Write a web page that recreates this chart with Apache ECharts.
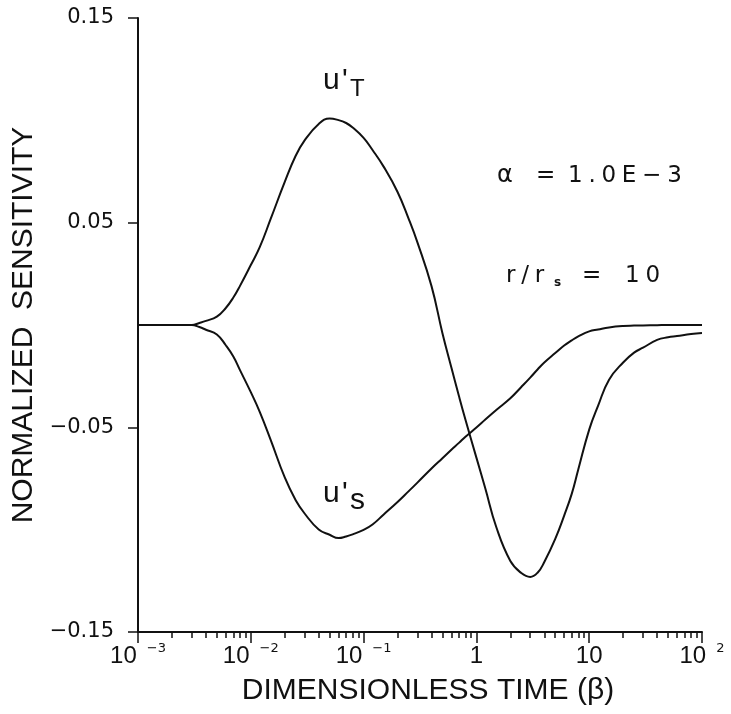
<!DOCTYPE html>
<html>
<head>
<meta charset="utf-8">
<script src="https://cdn.jsdelivr.net/npm/echarts@6/dist/echarts.min.js"></script>
<style>
html, body { margin: 0; padding: 0; background: #fff; }
#chart { width: 731px; height: 714px; }
</style>
</head>
<body>
<div id="chart"></div>
<script>
// Dimensionless time samples (beta)
const beta = [0.001, 0.002, 0.003, 0.0035, 0.004, 0.005, 0.006, 0.007, 0.008, 0.01,
  0.012, 0.015, 0.02, 0.025, 0.03, 0.04, 0.05, 0.06, 0.07, 0.08,
  0.1, 0.12, 0.15, 0.2, 0.25, 0.3, 0.4, 0.5, 0.6, 0.7,
  0.8, 1, 1.2, 1.5, 2, 2.5, 3, 3.5, 4, 5,
  6, 7, 8, 10, 12, 15, 20, 25, 30, 40,
  50, 60, 80, 100];

// Normalized sensitivity u'T
const uT = [0, 0, 0, 0.001, 0.002, 0.0041, 0.0083, 0.0134, 0.019, 0.0293,
  0.038, 0.0518, 0.0699, 0.0827, 0.0902, 0.0982, 0.1009, 0.1001, 0.0987, 0.0965,
  0.0914, 0.0855, 0.0775, 0.065, 0.0521, 0.0404, 0.019, -0.004, -0.0208, -0.0347,
  -0.0463, -0.0648, -0.0799, -0.0987, -0.1153, -0.1212, -0.1231, -0.1209, -0.1158, -0.1045,
  -0.0931, -0.0825, -0.0706, -0.0511, -0.0394, -0.0267, -0.0183, -0.0135, -0.0111, -0.0073,
  -0.006, -0.0054, -0.0044, -0.0039];

// Normalized sensitivity u'S
const uS = [0, 0, 0, -0.001, -0.0023, -0.0046, -0.0099, -0.0154, -0.0219, -0.0328,
  -0.0424, -0.0561, -0.0745, -0.0856, -0.0921, -0.0999, -0.1025, -0.1041, -0.1033, -0.1023,
  -0.1001, -0.0975, -0.0927, -0.0865, -0.0813, -0.077, -0.0701, -0.0651, -0.061, -0.0576,
  -0.0546, -0.0501, -0.0462, -0.0415, -0.0358, -0.0303, -0.0257, -0.0216, -0.0183, -0.0137,
  -0.01, -0.0075, -0.0056, -0.0031, -0.0022, -0.0012, -0.0005, -0.0003, -0.0002, -0.0001,
  0, 0, 0, 0];

// Tick labels
const xTickValues = [0.001, 0.01, 0.1, 1, 10, 100];
const xTickBase = ['10', '10', '10', '1', '10', '10'];
const xTickExp = ['\u22123', '\u22122', '\u22121', '', '', '2'];
const yTickValues = [-0.15, -0.05, 0.05, 0.15];
const yTickLabels = ['\u22120.15', '\u22120.05', '0.05', '0.15'];

// Minor ticks at 2..9 within each decade (placed on a linear exponent axis)
const minorDecades = [0.001, 0.01, 0.1, 1, 10];
const minorMultipliers = [2, 3, 4, 5, 6, 7, 8, 9];
const minorExponents = [];
minorDecades.forEach(d => minorMultipliers.forEach(m => minorExponents.push(Math.log10(m * d))));

const INK = '#111';
const SANS = '"Liberation Sans", Arial, sans-serif';
const DEJA = '"DejaVu Sans", sans-serif';

function xLabel(v) {
  const e = Math.log10(v);
  const i = xTickValues.findIndex(t => Math.abs(Math.log10(t) - e) < 1e-6);
  if (i < 0) return '';
  return xTickExp[i] ? '{b|' + xTickBase[i] + '}{s|' + xTickExp[i] + '}' : '{b|' + xTickBase[i] + '}';
}

// Annotation text placed by baseline
function note(s, x, baseline, size, family, weight) {
  return {
    type: 'text', x: x, y: baseline - 0.3 * size, z: 10,
    style: {
      text: s, fontSize: size, fontFamily: family, fontWeight: weight || 'normal',
      fill: INK, align: 'left', textAlign: 'left', verticalAlign: 'middle', textVerticalAlign: 'middle'
    }
  };
}

const chart = echarts.init(document.getElementById('chart'), null, { renderer: 'canvas' });

chart.setOption({
  animation: false,
  backgroundColor: '#fff',
  grid: { left: 138, right: 29, top: 18, bottom: 82, containLabel: false },
  xAxis: [
    {
      type: 'log', logBase: 10, min: 0.001, max: 100,
      position: 'bottom',
      name: 'DIMENSIONLESS TIME (\u03b2)',
      nameLocation: 'middle', nameGap: 44,
      nameTextStyle: { fontFamily: SANS, fontSize: 30, color: INK, padding: [0, 0, 0, 16] },
      axisLine: { show: true, onZero: false, lineStyle: { color: INK, width: 2 } },
      axisTick: { show: true, length: 11, lineStyle: { color: INK, width: 1.5 } },
      minorTick: { show: false },
      splitLine: { show: false },
      axisLabel: {
        margin: 10, formatter: xLabel, color: INK,
        rich: {
          b: { fontFamily: SANS, fontSize: 24, lineHeight: 28, color: INK },
          s: { fontFamily: DEJA, fontSize: 13, lineHeight: 13, verticalAlign: 'top', padding: [0, 0, 0, 10], color: INK }
        }
      }
    },
    {
      type: 'value', min: -3, max: 2,
      position: 'bottom', offset: 0,
      axisLine: { show: false, onZero: false },
      axisLabel: { show: false },
      splitLine: { show: false },
      axisTick: { show: true, length: 6, customValues: minorExponents, lineStyle: { color: INK, width: 1.5 } }
    }
  ],
  yAxis: {
    type: 'value', min: -0.15, max: 0.15,
    position: 'left',
    name: 'NORMALIZED  SENSITIVITY',
    nameLocation: 'middle', nameGap: 94,
    nameTextStyle: { fontFamily: SANS, fontSize: 30, color: INK },
    axisLine: { show: true, onZero: false, lineStyle: { color: INK, width: 2 } },
    axisTick: { show: true, length: 10, customValues: yTickValues, lineStyle: { color: INK, width: 1.5 } },
    splitLine: { show: false },
    axisLabel: {
      customValues: yTickValues, margin: 24,
      fontFamily: DEJA, fontSize: 21, color: INK,
      formatter: v => {
        const i = yTickValues.findIndex(t => Math.abs(t - v) < 1e-9);
        return i < 0 ? '' : yTickLabels[i];
      }
    }
  },
  series: [
    {
      name: "u'T", type: 'line', xAxisIndex: 0, showSymbol: false, smooth: 0.45,
      lineStyle: { color: INK, width: 2 },
      data: beta.map((b, i) => [b, uT[i]])
    },
    {
      name: "u'S", type: 'line', xAxisIndex: 0, showSymbol: false, smooth: 0.45,
      lineStyle: { color: INK, width: 2 },
      data: beta.map((b, i) => [b, uS[i]])
    }
  ],
  graphic: [
    // curve labels
    note('u', 323, 90, 30, SANS),
    note("'", 342, 90, 30, SANS),
    note('T', 350, 97, 24, SANS),
    note('u', 323, 503, 30, SANS),
    note("'", 342, 503, 30, SANS),
    note('s', 350, 510, 30, SANS),
    // parameters
    note('\u03b1', 497, 183, 24, DEJA),
    note('=', 536, 183, 23, DEJA),
    note('1\u2005.\u20050\u2005E\u2005\u2212\u20053', 568, 183, 23, DEJA),
    note('r\u2005/\u2005r', 506, 283, 23, DEJA),
    note('s', 554, 286, 12, DEJA, 'bold'),
    note('=', 582, 283, 23, DEJA),
    note('1\u20050', 625, 283, 23, DEJA)
  ]
});
</script>
</body>
</html>
